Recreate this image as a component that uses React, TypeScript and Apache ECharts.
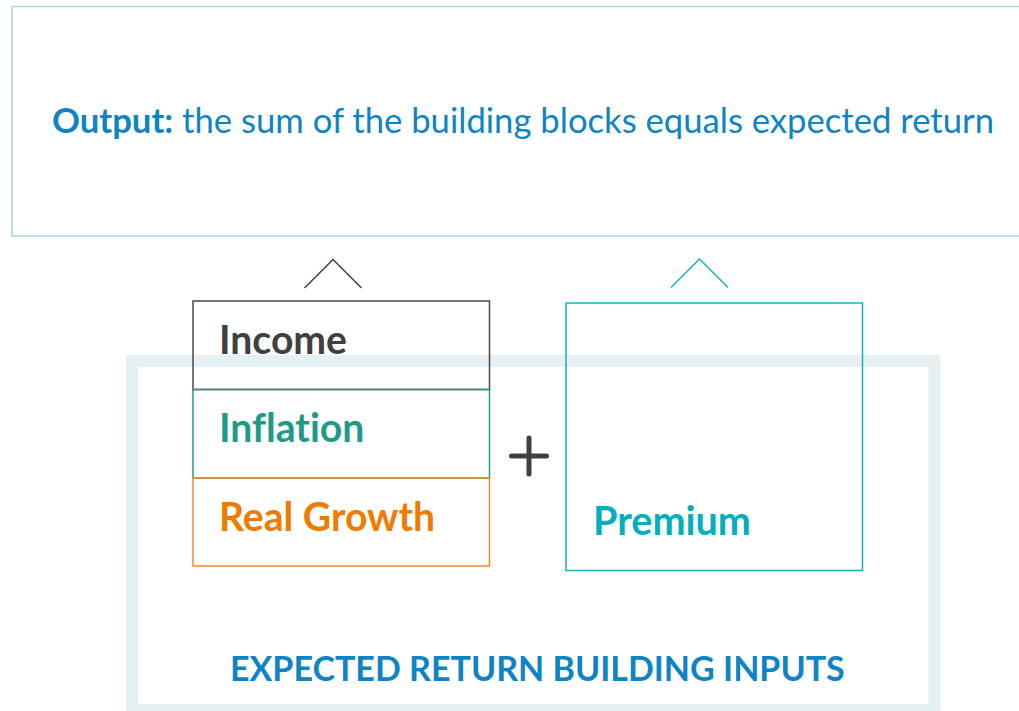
import React, { useEffect, useRef } from "react";
import * as echarts from "echarts";

// ---- content ----
const stackBlocks = ["Income", "Inflation", "Real Growth"];
const premiumBlock = "Premium";
const outputLead = "Output:";
const outputRest = " the sum of the building blocks equals expected return";
const inputsTitle = "EXPECTED RETURN BUILDING INPUTS";

// ---- styling ----
const FONT = "Lato";
const stackColors = [
  { stroke: "#4a4a4a", text: "#404040" },
  { stroke: "#20998a", text: "#1f9a88" },
  { stroke: "#f08a24", text: "#ef7b00" },
];
const premiumColor = { stroke: "#16b2c0", text: "#03aebd" };

function measure(text: string, weight: string, size: number) {
  const c = document.createElement("canvas").getContext("2d")!;
  c.font = `${weight} ${size}px ${FONT}`;
  return c.measureText(text).width;
}
function fit(text: string, weight: string, target: number) {
  return (100 * target) / measure(text, weight, 100);
}

export default function App() {
  const ref = useRef<HTMLDivElement>(null);
  useEffect(() => {
    document.body.style.margin = "0";
    const chart = echarts.init(ref.current!, null, { renderer: "svg" });

    // layout
    const stackX = 193, stackW = 296.5;
    const stackEdges = [301, 389.5, 478, 566];
    const stackTargets = [127, 147, 217];
    const prem = { x: 566, y: 303, w: 296.5, h: 267.5 };

    const outTotal = measure(outputLead, "bold", 100) + measure(outputRest, "normal", 100);
    const outSize = (100 * 943) / outTotal;
    const blockSize = stackBlocks.reduce((s, t, i) => s + fit(t, "bold", stackTargets[i]), 0) / stackBlocks.length;
    const premSize = fit(premiumBlock, "bold", 158);
    const titleSize = fit(inputsTitle, "bold", 615);

    const elements: any[] = [];
    // output box
    elements.push({
      type: "rect",
      shape: { x: 12, y: 6.5, width: 1100, height: 229.5 },
      style: { fill: "transparent", stroke: "#aed4dd", lineWidth: 1.5 },
    });
    elements.push({
      type: "text",
      x: 52,
      y: 119.5,
      style: {
        text: `{b|${outputLead}}{n|${outputRest}}`,
        textVerticalAlign: "middle",
        rich: {
          b: { fontFamily: FONT, fontWeight: "bold", fontSize: outSize, fill: "#0f84c4" },
          n: { fontFamily: FONT, fontWeight: "normal", fontSize: outSize, fill: "#0f84c4" },
        },
      },
    });
    // frame
    elements.push({
      type: "rect",
      shape: { x: 132, y: 361, width: 802.5, height: 349 },
      style: { fill: "transparent", stroke: "#e6eff2", lineWidth: 12 },
    });
    // stack blocks
    stackBlocks.forEach((name, i) => {
      const y0 = stackEdges[i], y1 = stackEdges[i + 1];
      elements.push({
        type: "rect",
        shape: { x: stackX, y: y0, width: stackW, height: y1 - y0 },
        style: { fill: "transparent", stroke: stackColors[i].stroke, lineWidth: 1.5 },
      });
    });
    stackBlocks.forEach((name, i) => {
      const y0 = stackEdges[i], y1 = stackEdges[i + 1];
      elements.push({
        type: "text",
        x: 219,
        y: (y0 + y1) / 2 - 7,
        style: {
          text: name,
          fontFamily: FONT,
          fontWeight: "bold",
          fontSize: blockSize,
          fill: stackColors[i].text,
          textVerticalAlign: "middle",
        },
      });
    });
    // premium block
    elements.push({
      type: "rect",
      shape: { x: prem.x, y: prem.y, width: prem.w, height: prem.h },
      style: { fill: "transparent", stroke: premiumColor.stroke, lineWidth: 1.5 },
    });
    elements.push({
      type: "text",
      x: 593,
      y: 519.5,
      style: {
        text: premiumBlock,
        fontFamily: FONT,
        fontWeight: "bold",
        fontSize: premSize,
        fill: premiumColor.text,
        textVerticalAlign: "middle",
      },
    });
    // carets
    elements.push({
      type: "polyline",
      shape: { points: [[304.5, 288], [333, 259.5], [361.5, 288]] },
      style: { fill: "none", stroke: "#404040", lineWidth: 1.5 },
    });
    elements.push({
      type: "polyline",
      shape: { points: [[671, 287.5], [699.5, 259], [728, 287.5]] },
      style: { fill: "none", stroke: "#16b2c0", lineWidth: 1.5 },
    });
    // plus sign
    elements.push({
      type: "line",
      shape: { x1: 511.5, y1: 456, x2: 546.5, y2: 456 },
      style: { stroke: "#404040", lineWidth: 5, lineCap: "round" },
    });
    elements.push({
      type: "line",
      shape: { x1: 529, y1: 438, x2: 529, y2: 474 },
      style: { stroke: "#404040", lineWidth: 5, lineCap: "round" },
    });
    // bottom title
    elements.push({
      type: "text",
      x: 230,
      y: 667.5,
      style: {
        text: inputsTitle,
        fontFamily: FONT,
        fontWeight: "bold",
        fontSize: titleSize,
        fill: "#0e84c4",
        textVerticalAlign: "middle",
      },
    });

    chart.setOption({ animation: false, graphic: { elements } });
    return () => chart.dispose();
  }, []);
  return (
    <div
      ref={ref}
      style={{ width: 1019, height: 711, fontVariantLigatures: "none" } as any}
    />
  );
}
